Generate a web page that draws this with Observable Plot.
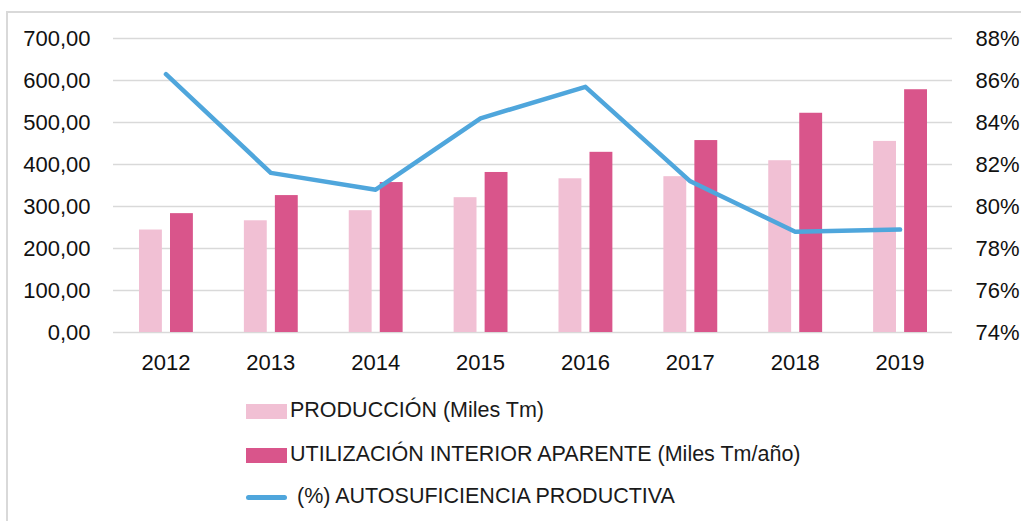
<!DOCTYPE html>
<html><head><meta charset="utf-8">
<script src="https://cdn.jsdelivr.net/npm/d3@7"></script>
<script src="https://cdn.jsdelivr.net/npm/@observablehq/plot@0.6"></script>
<style>
body{margin:0;width:1021px;height:521px;overflow:hidden;background:#fff;font-family:"Liberation Sans",Arial,sans-serif;position:relative}
#frame{position:absolute;left:6px;top:11px;width:1100px;height:600px;border:2px solid #d9d9d9;box-sizing:border-box}
#chart{position:absolute;left:0;top:0}
.row{position:absolute;left:246px;display:flex;align-items:center;font-size:21.5px;color:#1a1a1a;white-space:nowrap;line-height:1}
.sw{width:41px;height:15px;margin-right:3px}
.ln{width:41px;height:5px;border-radius:3px;margin-right:10px}
</style>
</head><body>
<div id="frame"></div>
<div id="chart"></div>
<div id="legend"></div>
<script>
const years = ["2012","2013","2014","2015","2016","2017","2018","2019"];
const produccion = [244, 266, 290, 321, 366, 371, 409, 455];
const utilizacion = [283, 326, 357, 381, 429, 457, 522, 578];
const autosuficiencia = [86.3, 81.6, 80.8, 84.2, 85.7, 81.2, 78.8, 78.9];
const leftTicks = [0, 100, 200, 300, 400, 500, 600, 700];
const rightTicks = [74, 76, 78, 80, 82, 84, 86, 88];
const seriesNames = ["PRODUCCIÓN (Miles Tm)", "UTILIZACIÓN INTERIOR APARENTE (Miles Tm/año)", "(%) AUTOSUFICIENCIA PRODUCTIVA"];
const colors = ["#F1C0D4", "#D9558B", "#4FA6DC"];

const pctMin = 74, pctMax = 88, leftMax = 700;
const pctToLeft = p => (p - pctMin) / (pctMax - pctMin) * leftMax;
const leftToPct = v => pctMin + v / leftMax * (pctMax - pctMin);

const data = years.map((year, i) => ({year, prod: produccion[i], util: utilizacion[i], pct: autosuficiencia[i]}));

const chart = Plot.plot({
  width: 1021,
  height: 380,
  marginLeft: 113,
  marginRight: 69,
  marginTop: 38,
  marginBottom: 48,
  style: {fontFamily: "'Liberation Sans', Arial, sans-serif", fontSize: "22px", color: "#111", background: "transparent"},
  x: {type: "band", domain: years, padding: 0, round: false},
  y: {domain: [0, leftMax]},
  marks: [
    Plot.gridY(leftTicks, {stroke: "#d9d9d9", strokeOpacity: 1, strokeWidth: 1.6}),
    Plot.barY(data, {x: "year", y: "prod", fill: colors[0], insetLeft: 26, insetRight: 56}),
    Plot.barY(data, {x: "year", y: "util", fill: colors[1], insetLeft: 57, insetRight: 25}),
    Plot.line(data, {x: "year", y: d => pctToLeft(d.pct), stroke: colors[2], strokeWidth: 4.5}),
    Plot.axisY(leftTicks, {anchor: "left", tickSize: 0, tickPadding: 23, label: null, tickFormat: d => d.toFixed(2).replace(".", ",")}),
    Plot.axisY(rightTicks.map(pctToLeft), {anchor: "right", tickSize: 0, tickPadding: 23, label: null, tickFormat: d => Math.round(leftToPct(d)) + "%"}),
    Plot.axisX(years, {anchor: "bottom", tickSize: 0, tickPadding: 22, label: null})
  ]
});
document.getElementById("chart").append(chart);

const legend = document.getElementById("legend");
const rowsY = [411, 455, 497];
seriesNames.forEach((name, i) => {
  const row = document.createElement("div");
  row.className = "row";
  row.style.top = (rowsY[i] - 11) + "px";
  row.style.height = "22px";
  const sw = document.createElement("div");
  sw.className = i < 2 ? "sw" : "ln";
  sw.style.background = colors[i];
  const t = document.createElement("span");
  t.textContent = name;
  row.append(sw, t);
  legend.append(row);
});
</script>
</body></html>
